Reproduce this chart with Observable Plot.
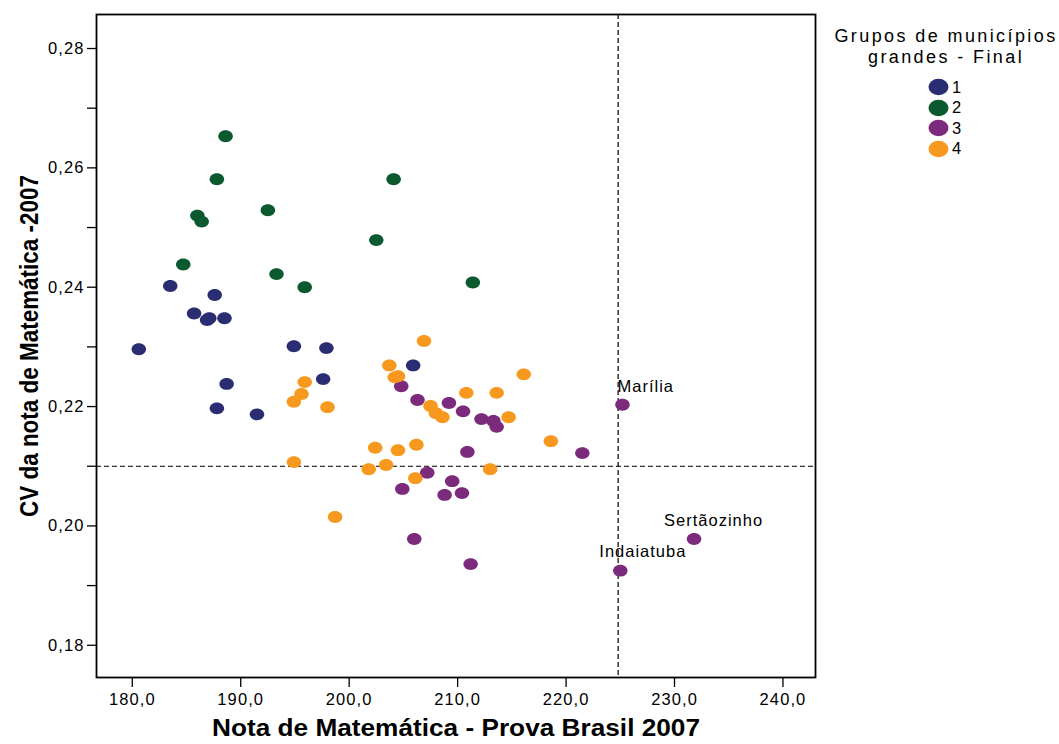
<!DOCTYPE html>
<html>
<head>
<meta charset="utf-8">
<script src="https://cdn.jsdelivr.net/npm/d3@7"></script>
<script src="https://cdn.jsdelivr.net/npm/@observablehq/plot@0.6"></script>
<style>
  body { margin: 0; background: #fff; }
  #wrap { position: relative; width: 1059px; height: 744px; font-family: "Liberation Sans", Arial, sans-serif; color: #000; }
  #legend-title { position: absolute; left: 826px; top: 26px; width: 240px; text-align: center; font-size: 18px; line-height: 21px; letter-spacing: 2.4px; }
  .item { position: absolute; height: 20px; display: flex; align-items: center; font-size: 16.5px; letter-spacing: 1px; }
  .item svg { margin-right: 3px; }
  g[aria-label="x-axis tick label"] text, g[aria-label="y-axis tick label"] text { letter-spacing: 1.1px; }
</style>
</head>
<body>
<div id="wrap">
  <div id="chart"></div>
  <div id="legend-title"></div>
</div>
<script>
// ---- data ----
const groups = ["1", "2", "3", "4"];
const groupColors = ["#2b2d73", "#0b5a2f", "#7b2a7c", "#f8991f"];
const legendTitle = ["Grupos de municípios", "grandes - Final"];

const group1X = [180.6, 183.5, 185.7, 187.1, 186.9, 187.6, 188.5, 188.7, 187.8, 191.5, 194.9, 197.9, 197.6, 205.9];
const group1Y = [0.2296, 0.2402, 0.2356, 0.2348, 0.2345, 0.2387, 0.2348, 0.2238, 0.2197, 0.2187, 0.2301, 0.2298, 0.2246, 0.2269];

const group2X = [188.6, 187.8, 186.0, 186.4, 184.7, 192.5, 193.3, 195.9, 202.5, 204.1, 211.4];
const group2Y = [0.2653, 0.2581, 0.2520, 0.2510, 0.2438, 0.2529, 0.2422, 0.2400, 0.2479, 0.2581, 0.2408];

const group3X = [204.8, 206.3, 209.2, 210.5, 212.2, 213.3, 213.6, 210.9, 221.5, 207.2, 209.5, 204.9, 208.8, 210.4, 206.0, 211.2, 225.2, 231.8, 225.0];
const group3Y = [0.2234, 0.2211, 0.2206, 0.2192, 0.2179, 0.2176, 0.2166, 0.2124, 0.2122, 0.2089, 0.2075, 0.2062, 0.2052, 0.2055, 0.1978, 0.1936, 0.2203, 0.1978, 0.1925];
const group3Names = ["", "", "", "", "", "", "", "", "", "", "", "", "", "", "", "", "Marília", "Sertãozinho", "Indaiatuba"];

const group4X = [206.9, 203.7, 204.2, 204.5, 195.9, 195.6, 194.9, 198.0, 207.5, 208.0, 208.6, 210.8, 213.6, 216.1, 214.7, 218.6, 202.4, 204.5, 206.2, 194.9, 201.8, 203.4, 213.0, 206.1, 198.7];
const group4Y = [0.2310, 0.2269, 0.2249, 0.2251, 0.2241, 0.2221, 0.2208, 0.2199, 0.2201, 0.2189, 0.2182, 0.2223, 0.2223, 0.2254, 0.2182, 0.2142, 0.2131, 0.2127, 0.2136, 0.2107, 0.2095, 0.2102, 0.2095, 0.2080, 0.2015];

const xTicks = [180, 190, 200, 210, 220, 230, 240];
const yTicks = [0.18, 0.19, 0.20, 0.21, 0.22, 0.23, 0.24, 0.25, 0.26, 0.27, 0.28];
const refX = [224.8];
const refY = [0.21];
const xLabel = "Nota de Matemática - Prova Brasil 2007";
const yLabel = "CV da nota de Matemática -2007";

// ---- build table ----
const series = [[group1X, group1Y], [group2X, group2Y], [group3X, group3Y], [group4X, group4Y]];
const points = [];
series.forEach(([xs, ys], gi) => {
  xs.forEach((x, i) => points.push({x, y: ys[i], group: groups[gi], name: gi === 2 ? group3Names[i] : ""}));
});

const ellipse = {
  draw(ctx, size) {
    const r = Math.sqrt(size / Math.PI);
    const rx = r * 1.1, ry = r * 0.9;
    const kx = rx * 0.5523, ky = ry * 0.5523;
    ctx.moveTo(rx, 0);
    ctx.bezierCurveTo(rx, ky, kx, ry, 0, ry);
    ctx.bezierCurveTo(-kx, ry, -rx, ky, -rx, 0);
    ctx.bezierCurveTo(-rx, -ky, -kx, -ry, 0, -ry);
    ctx.bezierCurveTo(kx, -ry, rx, -ky, rx, 0);
    ctx.closePath();
  }
};

const font = "Liberation Sans, Arial, sans-serif";
const labelStyle = {fontSize: 16.5, fill: "#000", textAnchor: "start", fontFamily: font};
const labelOffsets = {"Marília": [-5, -18], "Sertãozinho": [-30, -18], "Indaiatuba": [-21, -19]};

const plot = Plot.plot({
  width: 1059,
  height: 744,
  marginLeft: 96,
  marginRight: 244,
  marginTop: 14,
  marginBottom: 67,
  style: {fontFamily: font, fontSize: "16.5px", color: "#000", background: "transparent"},
  x: {domain: [176.7, 243]},
  y: {domain: [0.1746, 0.2857]},
  color: {domain: groups, range: groupColors},
  marks: [
    Plot.ruleX(refX, {stroke: "#000", strokeWidth: 1.2, strokeDasharray: "5,3"}),
    Plot.ruleY(refY, {stroke: "#000", strokeWidth: 1.2, strokeDasharray: "5,3"}),
    Plot.dot(points, {x: "x", y: "y", fill: "group", r: 6.6, symbol: ellipse}),
    ...Object.entries(labelOffsets).map(([nm, [dx, dy]]) =>
      Plot.text(points.filter(d => d.name === nm), {x: "x", y: "y", text: "name", dx, dy, ...labelStyle})
    ),
    Plot.axisX(xTicks, {tickSize: 10, tickPadding: 6, strokeWidth: 1.3, tickFormat: d => d.toFixed(1).replace(".", ","), label: null}),
    Plot.axisY(yTicks, {tickSize: 9, tickPadding: 3, strokeWidth: 1.3, tickFormat: d => (Math.round(d * 100) % 2 === 0 ? d.toFixed(2).replace(".", ",") : ""), label: null}),
    Plot.frame({stroke: "#000", strokeWidth: 1.8}),
    Plot.text([xLabel], {frameAnchor: "bottom", dy: 58, fontSize: 24, fontWeight: "bold", fill: "#000", fontFamily: font}),
    Plot.text([yLabel], {frameAnchor: "left", dx: -67, rotate: -90, fontSize: 26, fontWeight: "bold", fill: "#000", fontFamily: font})
  ]
});
document.getElementById("chart").appendChild(plot);

// stretch / condense the axis titles to the reference's text lengths; space the point labels
const pointNames = group3Names.filter(n => n);
d3.select(plot).selectAll("text").each(function () {
  const t = this.textContent;
  if (t === xLabel) { this.setAttribute("textLength", "488"); this.setAttribute("lengthAdjust", "spacingAndGlyphs"); }
  if (t === yLabel) {
    this.setAttribute("text-anchor", "start");
    this.setAttribute("x", "-171");
    this.setAttribute("textLength", "342");
    this.setAttribute("lengthAdjust", "spacingAndGlyphs");
  }
  if (pointNames.includes(t)) this.style.letterSpacing = "1px";
});

// ---- legend (HTML overlay) ----
const wrap = document.getElementById("wrap");
document.getElementById("legend-title").innerHTML = legendTitle.join("<br>");
groups.forEach((g, i) => {
  const div = document.createElement("div");
  div.className = "item";
  div.style.left = "928px";
  div.style.top = (77 + i * 20.5) + "px";
  div.innerHTML = `<svg width="21" height="18"><ellipse cx="10.5" cy="9" rx="10" ry="8.3" fill="${groupColors[i]}"/></svg><span>${g}</span>`;
  wrap.appendChild(div);
});
</script>
</body>
</html>
